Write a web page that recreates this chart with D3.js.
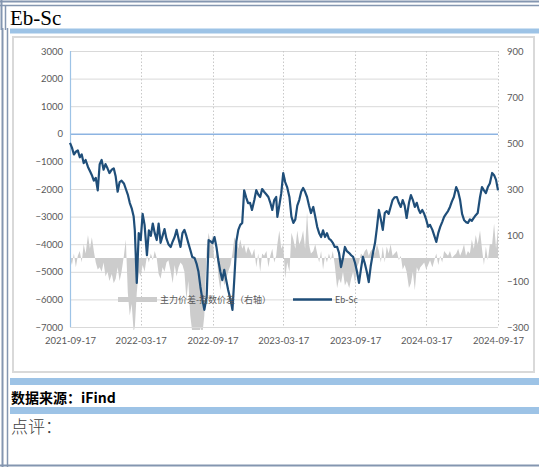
<!DOCTYPE html>
<html><head><meta charset="utf-8">
<script src="https://cdn.jsdelivr.net/npm/d3@7"></script>
<style>
html,body{margin:0;padding:0;background:#fff;}
svg{display:block;}
</style></head>
<body>
<svg id="c" width="539" height="467"></svg>
<script>
const dates = [
"2021-09-17","2021-09-22","2021-09-27",
"2021-10-02","2021-10-07","2021-10-12","2021-10-17","2021-10-22","2021-10-27",
"2021-11-02","2021-11-07","2021-11-12","2021-11-17","2021-11-22","2021-11-27",
"2021-12-02","2021-12-07","2021-12-12","2021-12-17","2021-12-22","2021-12-27",
"2022-01-02","2022-01-07","2022-01-12","2022-01-17","2022-01-22","2022-01-27",
"2022-02-02","2022-02-07","2022-02-12","2022-02-17","2022-02-22","2022-02-27",
"2022-03-02","2022-03-07","2022-03-12","2022-03-17","2022-03-22","2022-03-27",
"2022-04-02","2022-04-07","2022-04-12","2022-04-17","2022-04-22","2022-04-27",
"2022-05-02","2022-05-07","2022-05-12","2022-05-17","2022-05-22","2022-05-27",
"2022-06-02","2022-06-07","2022-06-12","2022-06-17","2022-06-22","2022-06-27",
"2022-07-02","2022-07-07","2022-07-12","2022-07-17","2022-07-22","2022-07-27",
"2022-08-02","2022-08-07","2022-08-12","2022-08-17","2022-08-22","2022-08-27",
"2022-09-02","2022-09-07","2022-09-12","2022-09-17","2022-09-22","2022-09-27",
"2022-10-02","2022-10-07","2022-10-12","2022-10-17","2022-10-22","2022-10-27",
"2022-11-02","2022-11-07","2022-11-12","2022-11-17","2022-11-22","2022-11-27",
"2022-12-02","2022-12-07","2022-12-12","2022-12-17","2022-12-22","2022-12-27",
"2023-01-02","2023-01-07","2023-01-12","2023-01-17","2023-01-22","2023-01-27",
"2023-02-02","2023-02-07","2023-02-12","2023-02-17","2023-02-22","2023-02-27",
"2023-03-02","2023-03-07","2023-03-12","2023-03-17","2023-03-22","2023-03-27",
"2023-04-02","2023-04-07","2023-04-12","2023-04-17","2023-04-22","2023-04-27",
"2023-05-02","2023-05-07","2023-05-12","2023-05-17","2023-05-22","2023-05-27",
"2023-06-02","2023-06-07","2023-06-12","2023-06-17","2023-06-22","2023-06-27",
"2023-07-02","2023-07-07","2023-07-12","2023-07-17","2023-07-22","2023-07-27",
"2023-08-02","2023-08-07","2023-08-12","2023-08-17","2023-08-22","2023-08-27",
"2023-09-02","2023-09-07","2023-09-12","2023-09-17","2023-09-22","2023-09-27",
"2023-10-02","2023-10-07","2023-10-12","2023-10-17","2023-10-22","2023-10-27",
"2023-11-02","2023-11-07","2023-11-12","2023-11-17","2023-11-22","2023-11-27",
"2023-12-02","2023-12-07","2023-12-12","2023-12-17","2023-12-22","2023-12-27",
"2024-01-02","2024-01-07","2024-01-12","2024-01-17","2024-01-22","2024-01-27",
"2024-02-02","2024-02-07","2024-02-12","2024-02-17","2024-02-22","2024-02-27",
"2024-03-02","2024-03-07","2024-03-12","2024-03-17","2024-03-22","2024-03-27",
"2024-04-02","2024-04-07","2024-04-12","2024-04-17","2024-04-22","2024-04-27",
"2024-05-02","2024-05-07","2024-05-12","2024-05-17","2024-05-22","2024-05-27",
"2024-06-02","2024-06-07","2024-06-12","2024-06-17","2024-06-22","2024-06-27",
"2024-07-02","2024-07-07","2024-07-12","2024-07-17","2024-07-22","2024-07-27",
"2024-08-02","2024-08-07","2024-08-12","2024-08-17","2024-08-22","2024-08-27",
"2024-09-02","2024-09-07","2024-09-12","2024-09-17"
];
const ebSc = [
-330,-500,-750,
-650,-600,-850,-750,-1060,-950,
-1200,-1350,-1500,-1700,-1600,-2050,
-1100,-950,-1300,-1100,-1250,-1420,
-1300,-1250,-1550,-2100,-1750,-1700,
-1800,-2000,-2200,-2500,-2700,-3000,
-3500,-5400,-3600,-3850,-2900,-3300,
-4400,-3500,-3700,-3250,-3600,-3850,
-3250,-3950,-3700,-3450,-3800,-4000,
-4100,-3900,-3740,-3480,-3800,-4100,
-3600,-3480,-3700,-3960,-4200,-4460,
-4500,-4700,-5000,-5550,-6000,-6380,
-5900,-3850,-3900,-3960,-3740,-4100,
-4600,-5000,-5300,-4930,-5300,-5660,
-6000,-6380,-5200,-3900,-3480,-3300,
-3230,-2050,-2300,-2510,-2500,-2760,
-2400,-2040,-2200,-2290,-2000,-2100,
-2200,-2290,-2500,-2760,-2400,-2290,
-3010,-2600,-2150,-1420,-1750,-1930,
-2300,-3000,-3230,-3100,-2600,-2400,
-2100,-1960,-2100,-2290,-2600,-2870,
-2650,-3000,-3370,-3600,-3740,-3500,
-3740,-3600,-3800,-3850,-3950,-4100,
-4100,-4320,-4830,-4500,-4100,-4250,
-4320,-4400,-4460,-4680,-5000,-5400,
-4900,-4460,-4700,-5000,-5370,-4800,
-4300,-3960,-3400,-2760,-3100,-3480,
-2870,-2800,-2900,-2650,-2400,-2300,
-2290,-2500,-2650,-2400,-2600,-3050,
-2500,-2220,-2400,-2650,-2500,-2750,
-2870,-2760,-2900,-3100,-3370,-3300,
-3480,-3700,-3920,-3600,-3370,-3200,
-3010,-2900,-2800,-2650,-2450,-2290,
-1930,-2100,-2400,-2900,-3120,-3200,
-3230,-3100,-3150,-3050,-2950,-2870,
-2290,-1930,-2050,-2150,-1930,-1800,
-1420,-1500,-1670,-2050
];
const spreadDiff = [
0,-30,20,
-40,10,30,-20,60,20,
100,40,90,30,-20,-50,
-40,-60,-20,-80,-60,-100,
-70,-110,-90,-40,-100,-60,
10,80,-150,-250,-200,-320,
-300,-150,-60,-80,-30,-60,
10,-20,20,-10,30,0,
-70,-90,-40,-60,-20,-10,
-60,-110,-30,-80,-40,-20,
-30,-60,-180,-100,-250,-320,
-350,-330,-380,-300,-330,-250,
40,110,60,100,-20,30,
-80,-140,-60,-120,-90,-60,
-30,20,90,70,40,80,
40,60,20,50,30,10,
40,-40,20,-60,20,10,
30,-40,10,40,-20,10,
60,120,40,60,-90,-20,
-60,110,80,40,120,60,
80,120,40,200,60,20,
30,60,20,-20,30,-50,
10,-20,20,-10,30,-30,
-130,-90,-110,-60,-120,-100,
-130,-90,-60,-110,-40,-20,
20,10,30,40,10,30,
40,20,60,30,-20,50,
-20,50,20,60,10,20,
30,-10,10,-50,-30,-60,
-130,-110,-60,-140,-40,-60,
-40,-30,-20,-50,-30,-10,
-40,-10,20,-30,10,-20,
30,20,10,30,0,10,
20,40,10,30,60,10,
30,20,80,40,100,60,
120,40,-30,50,-10,60,
60,150,40,130
];
const xTickLabels = ["2021-09-17","2022-03-17","2022-09-17","2023-03-17","2023-09-17","2024-03-17","2024-09-17"];
const leftTicks = [3000,2000,1000,0,-1000,-2000,-3000,-4000,-5000,-6000,-7000];
const rightTicks = [900,700,500,300,100,-100,-300];
const seriesNames = ["主力价差-指数价差（右轴）","Eb-Sc"];
const titleText = "Eb-Sc";
const sourceText = "数据来源：iFind";
const commentText = "点评：";

const svg = d3.select("#c");
const parse = d3.timeParse("%Y-%m-%d");
const data = dates.map((d,i)=>({date:parse(d), v:ebSc[i], s:spreadDiff[i]}));

// frame
const frame = "#8496b0";
svg.append("line").attr("x1",0).attr("x2",539).attr("y1",1.5).attr("y2",1.5).attr("stroke",frame).attr("stroke-width",2);
svg.append("line").attr("x1",0).attr("x2",539).attr("y1",5.5).attr("y2",5.5).attr("stroke",frame).attr("stroke-width",1.5);
svg.append("line").attr("x1",1.5).attr("x2",1.5).attr("y1",0).attr("y2",30).attr("stroke",frame).attr("stroke-width",2);
svg.append("line").attr("x1",5.5).attr("x2",5.5).attr("y1",5).attr("y2",30).attr("stroke",frame).attr("stroke-width",1.5);
svg.append("line").attr("x1",2.5).attr("x2",2.5).attr("y1",28).attr("y2",467).attr("stroke",frame).attr("stroke-width",2);
svg.append("line").attr("x1",7.5).attr("x2",7.5).attr("y1",28).attr("y2",467).attr("stroke",frame).attr("stroke-width",1.5);
svg.append("line").attr("x1",0).attr("x2",539).attr("y1",465.5).attr("y2",465.5).attr("stroke",frame).attr("stroke-width",2);

// blue bands
const band = "#9dc3e6";
svg.append("rect").attr("x",10).attr("y",28.5).attr("width",529).attr("height",5).attr("fill",band);
svg.append("rect").attr("x",10).attr("y",378).attr("width",529).attr("height",7).attr("fill",band);
svg.append("rect").attr("x",10).attr("y",407).attr("width",529).attr("height",7).attr("fill",band);

// title etc
svg.append("text").attr("x",10).attr("y",25).attr("font-family","Liberation Serif, serif").attr("font-size",21).attr("fill","#000").text(titleText);
svg.append("text").attr("x",11).attr("y",403).attr("font-family","Noto Sans CJK SC").attr("font-weight","bold").attr("font-size",14).attr("fill","#000").text(sourceText);
svg.append("text").attr("x",11).attr("y",433).attr("font-family","Noto Sans CJK SC").attr("font-weight",300).attr("font-size",17).attr("fill","#404040").text(commentText);

// chart panel
svg.append("rect").attr("x",13).attr("y",37).attr("width",521).attr("height",335).attr("fill","#fff").attr("stroke","#d9d9d9").attr("stroke-width",2);

const x0=70, x1=498, y0=51, y1=327;
const x = d3.scaleTime().domain([parse("2021-09-17"),parse("2024-09-17")]).range([x0,x1]);
const yL = d3.scaleLinear().domain([-7000,3000]).range([y1,y0]);
const yR = d3.scaleLinear().domain([-300,900]).range([y1,y0]);

const g = svg.append("g");
g.selectAll(".hg").data(leftTicks).enter().append("line")
 .attr("x1",x0).attr("x2",x1).attr("y1",d=>yL(d)+0.5).attr("y2",d=>yL(d)+0.5)
 .attr("stroke",d=>d===0?"#8db4e2":"#d9d9d9").attr("stroke-width",d=>d===0?1.5:1);
g.selectAll(".vg").data(xTickLabels.slice(1)).enter().append("line")
 .attr("x1",d=>Math.round(x(parse(d)))+0.5).attr("x2",d=>Math.round(x(parse(d)))+0.5)
 .attr("y1",y0).attr("y2",y1).attr("stroke","#c8c8c8").attr("stroke-dasharray","1.5,2");

svg.append("clipPath").attr("id","pc").append("rect").attr("x",x0).attr("y",y0).attr("width",x1-x0).attr("height",y1-y0+3);

const area = d3.area().x(d=>x(d.date)).y0(yR(0)).y1(d=>yR(d.s));
g.append("path").datum(data).attr("d",area).attr("fill","#cccccc").attr("clip-path","url(#pc)");

g.append("line").attr("x1",x0+0.5).attr("x2",x0+0.5).attr("y1",y0).attr("y2",y1).attr("stroke","#9dc3e6").attr("stroke-width",1.2);
g.append("line").attr("x1",x0).attr("x2",x1).attr("y1",y1+0.5).attr("y2",y1+0.5).attr("stroke","#d9d9d9");

const line = d3.line().x(d=>x(d.date)).y(d=>yL(d.v));
g.append("path").datum(data).attr("d",line).attr("fill","none").attr("stroke","#1f4e79").attr("stroke-width",2.2).attr("stroke-linejoin","round");

const tickFont = "Lato, 'Noto Sans', sans-serif";
const axL = d3.axisLeft(yL).tickValues(leftTicks).tickFormat(d3.format("d")).tickSize(0).tickPadding(7);
const gl = svg.append("g").attr("transform",`translate(${x0},0)`).call(axL);
const axR = d3.axisRight(yR).tickValues(rightTicks).tickFormat(d3.format("d")).tickSize(0).tickPadding(9);
const gr = svg.append("g").attr("transform",`translate(${x1},0)`).call(axR);
const axB = d3.axisBottom(x).tickValues(xTickLabels.map(parse)).tickFormat(d3.timeFormat("%Y-%m-%d")).tickSize(0).tickPadding(10);
const gb = svg.append("g").attr("transform",`translate(0,${y1})`).call(axB);
[gl,gr,gb].forEach(a=>{a.select(".domain").remove();a.selectAll("text").attr("font-family",tickFont).attr("font-size",9.5).attr("fill","#595959");});

const lg = svg.append("g").attr("font-family","Noto Sans CJK SC").attr("font-size",9).attr("fill","#595959");
lg.append("rect").attr("x",118).attr("y",297).attr("width",39).attr("height",5).attr("fill","#cccccc");
lg.append("text").attr("x",160).attr("y",303).text(seriesNames[0]);
lg.append("line").attr("x1",293).attr("x2",332).attr("y1",299.5).attr("y2",299.5).attr("stroke","#1f4e79").attr("stroke-width",2.5);
lg.append("text").attr("x",335).attr("y",303).attr("font-family",tickFont).text(seriesNames[1]);
</script>
</body></html>
